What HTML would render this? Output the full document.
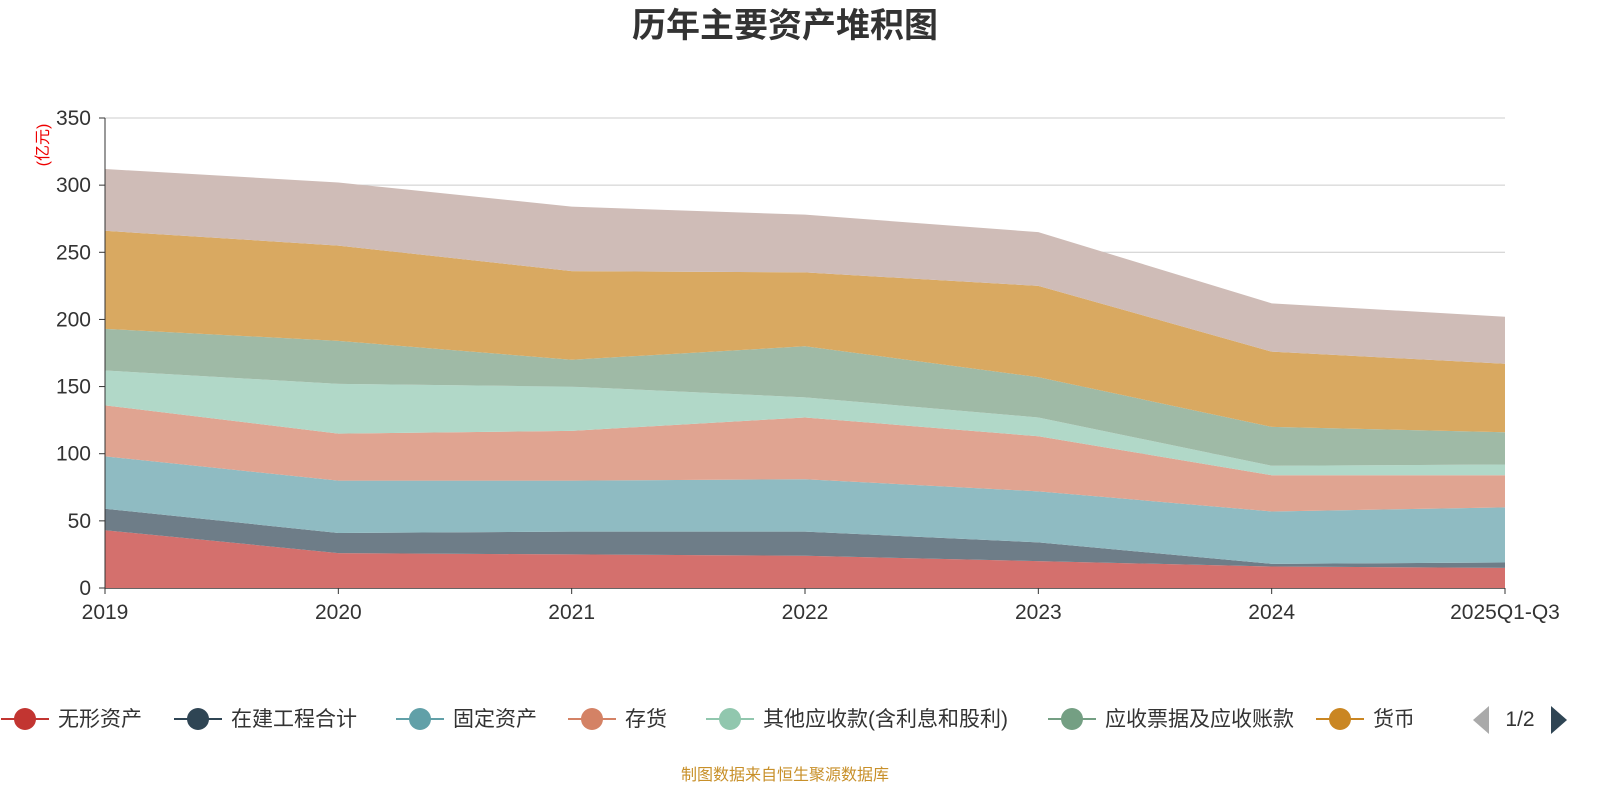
<!DOCTYPE html>
<html><head><meta charset="utf-8"><style>
body{margin:0;background:#fff;width:1600px;height:800px;overflow:hidden;font-family:"Liberation Sans","Noto Sans CJK SC",sans-serif}
</style></head><body>
<svg id="c" width="1600" height="800" font-family="Liberation Sans, Noto Sans CJK SC, sans-serif">
<text x="785" y="37" text-anchor="middle" font-size="34" font-weight="bold" fill="#333">历年主要资产堆积图</text>
<text x="48" y="145" font-size="16" fill="#e00" transform="rotate(-90 48 145)" text-anchor="middle">(亿元)</text>
<g id="grid"></g><g id="areas"></g><g id="axes"></g><g id="legend"></g>
<text x="785" y="780" text-anchor="middle" font-size="16" fill="#c8902a">制图数据来自恒生聚源数据库</text>
</svg>
<script>
const categories=["2019","2020","2021","2022","2023","2024","2025Q1-Q3"];
const seriesNames=["无形资产","在建工程合计","固定资产","存货","其他应收款(含利息和股利)","应收票据及应收账款","货币资金","其他资产"];
const s0=[43,26,25,24,20,16,15];
const s1=[16,15,17,18,14,2,4];
const s2=[39,39,38,39,38,39,41];
const s3=[38,35,37,46,41,27,24];
const s4=[26,37,33,15,14,7,8];
const s5=[31,32,20,38,30,29,24];
const s6=[73,71,66,55,68,56,51];
const s7=[46,47,48,43,40,36,35];
const yTicks=[0,50,100,150,200,250,300,350];
const series=[s0,s1,s2,s3,s4,s5,s6,s7];
const fills=["#d4706d","#6e7d88","#8fbbc2","#e0a491","#b1d8c8","#9fbaa6","#d9a961","#cfbcb7"];
const marks=["#c23531","#2f4554","#61a0a8","#d48265","#91c7ae","#749f83","#ca8622"];
const X0=105,X1=1505,Y0=588,Y1=118,VMAX=350;
const xs=i=>X0+i*(X1-X0)/(categories.length-1);
const ys=v=>Y0-v*(Y0-Y1)/VMAX;
const NS="http://www.w3.org/2000/svg";
function mk(t,a,p){const e=document.createElementNS(NS,t);for(const k in a)e.setAttribute(k,a[k]);p.appendChild(e);return e;}
const grid=document.getElementById('grid'),areas=document.getElementById('areas'),axes=document.getElementById('axes'),leg=document.getElementById('legend');
yTicks.forEach(t=>{
 const l=mk('line',{x1:X0,x2:X1,y1:ys(t),y2:ys(t),stroke:t?"#ccc":"#333","stroke-width":t?1:1.5},grid);
 
 
 const tx=mk('text',{x:X0-14,y:ys(t)+7,"text-anchor":"end","font-size":21,fill:"#333"},axes);tx.textContent=t;
 
 
 mk('line',{x1:X0-6,x2:X0,y1:ys(t),y2:ys(t),stroke:"#333"},axes);
});
mk('line',{x1:X0,x2:X0,y1:Y1,y2:Y0,stroke:"#333"},axes);
categories.forEach((c,i)=>{
 mk('line',{x1:xs(i),x2:xs(i),y1:Y0,y2:Y0+6,stroke:"#333"},axes);
 const tx=mk('text',{x:xs(i),y:Y0+31,"text-anchor":"middle","font-size":21,fill:"#333"},axes);tx.textContent=c;
 
 
});
let base=categories.map(()=>0);
series.forEach((s,k)=>{
 const top=base.map((b,i)=>b+s[i]);
 let d="M"+top.map((v,i)=>xs(i)+","+ys(v)).join("L");
 for(let i=categories.length-1;i>=0;i--)d+="L"+xs(i)+","+ys(base[i]);
 const p=mk('path',{d:d+"Z",fill:fills[k],stroke:"none"},areas);
 
 
 base=top;
});
const lcx=[25,198,420,592,730,1072,1340];
marks.forEach((m,k)=>{
 const g=mk('g',{},leg);
 
 
 const c=lcx[k];
 mk('line',{x1:c-24,x2:c+24,y1:719,y2:719,stroke:m,"stroke-width":2},g);
 mk('circle',{cx:c,cy:719,r:11,fill:m},g);
 const t=mk('text',{x:c+33,y:726,"font-size":21,fill:"#333"},g);t.textContent=seriesNames[k];
});
mk('rect',{x:1412,y:700,width:160,height:40,fill:"#fff"},leg);
const pl=mk('path',{d:"M1489,706L1473,720L1489,734Z",fill:"#aaa"},leg);


const pt=mk('text',{x:1520,y:726,"text-anchor":"middle","font-size":21,fill:"#333"},leg);pt.textContent="1/2";


const pn=mk('path',{d:"M1551,706L1567,720L1551,734Z",fill:"#2f4554"},leg);


</script>
</body></html>
